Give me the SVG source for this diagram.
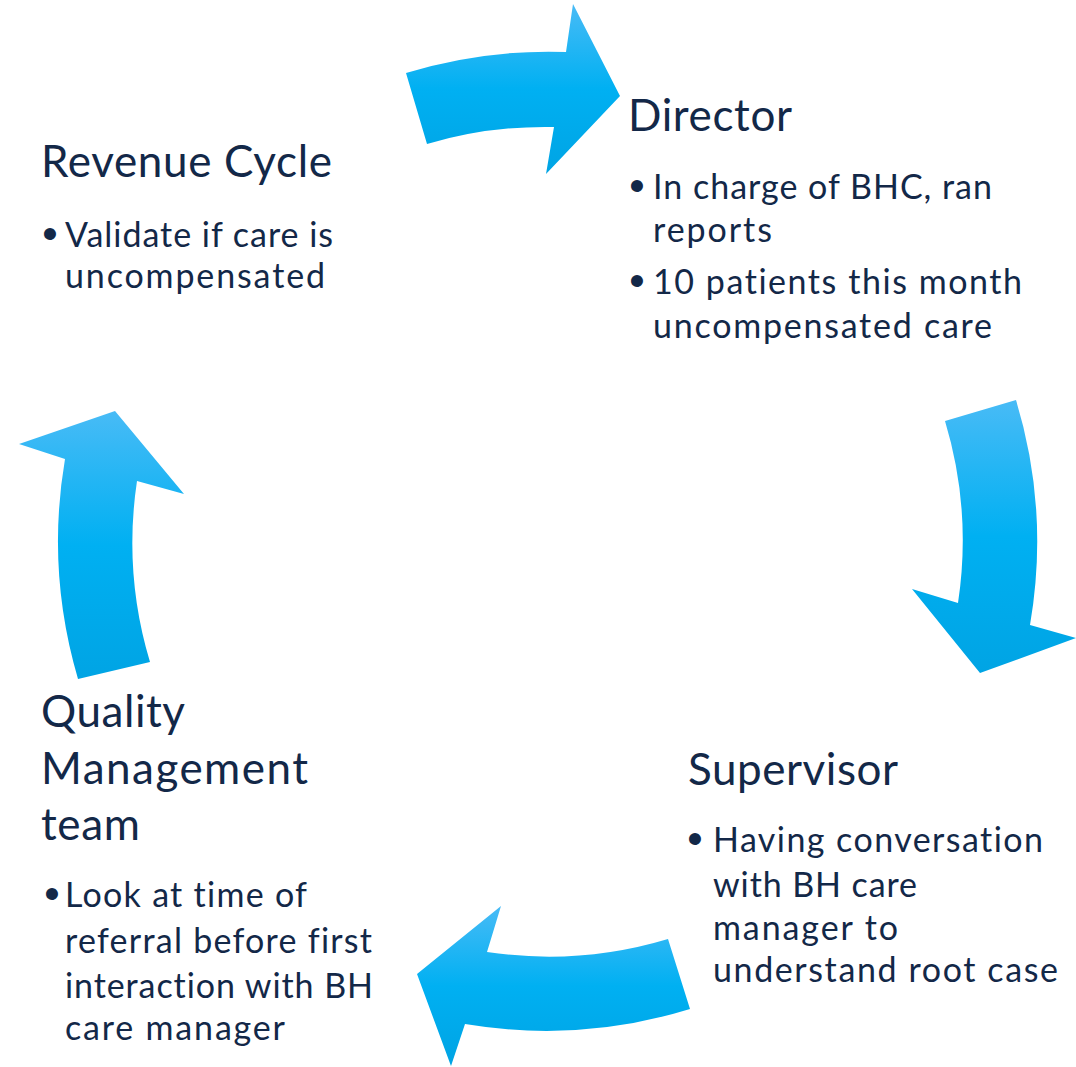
<svg xmlns="http://www.w3.org/2000/svg" width="1076" height="1067" viewBox="0 0 1076 1067">
  <defs>
    <linearGradient id="arrowFill" x1="0" y1="0" x2="0" y2="1">
      <stop offset="0" stop-color="#48bbf6"/>
      <stop offset="0.5" stop-color="#00b0f2"/>
      <stop offset="1" stop-color="#00a4e4"/>
    </linearGradient>
    <style>
      .arrow { fill: url(#arrowFill); stroke: none; }
      .head, .item { font-family: Lato, "Liberation Sans", sans-serif; fill: #132848; font-variant-ligatures: none; }
      .head { font-size: 44px; }
      .item { font-size: 34px; }
      .dot { font-family: "Liberation Sans", Arial, sans-serif; font-size: 44px; fill: #132848; text-anchor: middle; }
    </style>
  </defs>

  <rect width="1076" height="1067" fill="#ffffff"/>

  <!-- curved block arrows on a ring centred near (548,541) -->
  <g id="connectors">
    <path id="arrow-revenue-director" class="arrow"
          d="M406,73 A489,489 0 0 1 566,52 L573,4 L620,96 L546,174 L554,127 A415,415 0 0 0 427,144 Z"/>
    <path id="arrow-director-supervisor" class="arrow"
          d="M1016,400 A489,489 0 0 1 1030,625 L1076,638 L980,673 L912,589 L958,603 A415,415 0 0 0 945,421 Z"/>
    <path id="arrow-supervisor-quality" class="arrow"
          d="M690,1009 A489,489 0 0 1 465,1024 L451,1066 L417,974 L501,906 L487,952 A415,415 0 0 0 668,939 Z"/>
    <path id="arrow-quality-revenue" class="arrow"
          d="M78,679 A489,489 0 0 1 65,459 L19,444 L115,411 L184,494 L137,481 A415,415 0 0 0 150,662 Z"/>
  </g>

  <g id="node-director">
    <text class="head" x="628" y="131" textLength="164">Director</text>
    <text class="dot" x="637" y="201">•</text>
    <text class="item" x="653" y="199" textLength="339">In charge of BHC, ran</text>
    <text class="item" x="653" y="242" textLength="119">reports</text>
    <text class="dot" x="637" y="296">•</text>
    <text class="item" x="653" y="294" textLength="369">10 patients this month</text>
    <text class="item" x="653" y="338" textLength="339">uncompensated care</text>
  </g>

  <g id="node-revenue">
    <text class="head" x="41" y="177" textLength="291">Revenue Cycle</text>
    <text class="dot" x="50" y="249">•</text>
    <text class="item" x="65" y="247" textLength="268">Validate if care is</text>
    <text class="item" x="65" y="288" textLength="260">uncompensated</text>
  </g>

  <g id="node-supervisor">
    <text class="head" x="688" y="785" textLength="210">Supervisor</text>
    <text class="dot" x="695" y="854">•</text>
    <text class="item" x="713" y="852" textLength="330">Having conversation</text>
    <text class="item" x="713" y="897" textLength="204">with BH care</text>
    <text class="item" x="713" y="940" textLength="185">manager to</text>
    <text class="item" x="713" y="982" textLength="345">understand root case</text>
  </g>

  <g id="node-quality">
    <text class="head" x="41" y="727" textLength="144">Quality</text>
    <text class="head" x="41" y="784" textLength="267">Management</text>
    <text class="head" x="41" y="840" textLength="99">team</text>
    <text class="dot" x="52" y="909">•</text>
    <text class="item" x="65" y="907" textLength="242">Look at time of</text>
    <text class="item" x="65" y="953" textLength="307">referral before first</text>
    <text class="item" x="65" y="998" textLength="308">interaction with BH</text>
    <text class="item" x="65" y="1040" textLength="220">care manager</text>
  </g>
</svg>
